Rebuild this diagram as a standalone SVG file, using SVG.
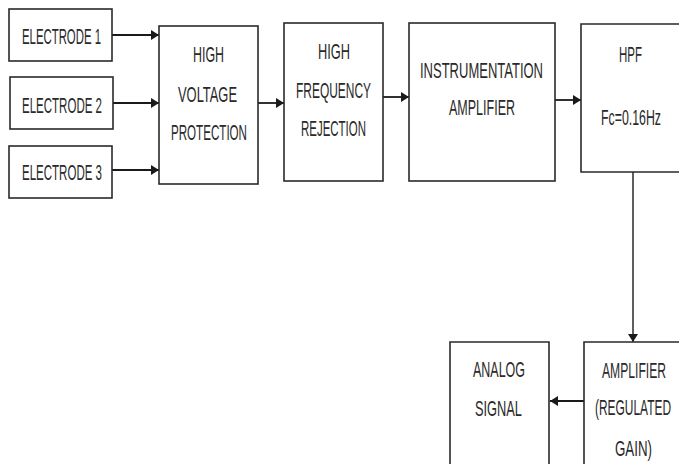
<svg xmlns="http://www.w3.org/2000/svg" width="679" height="464" viewBox="0 0 679 464">
<style>
.box{fill:#fff;stroke:#2a2a2a;stroke-width:1.6}
.t{font-family:"Liberation Sans",Arial,sans-serif;font-size:22.5px;fill:#2a2a2a}
.c{stroke:#1a1a1a;stroke-width:1.8;fill:none;marker-end:url(#ah)}
</style>
<defs>
<marker id="ah" markerUnits="userSpaceOnUse" markerWidth="8" markerHeight="10" refX="8" refY="5" orient="auto">
<path d="M0,0 L8,5 L0,10 z" fill="#1a1a1a"/>
</marker>
</defs>
<rect width="679" height="464" fill="#fff"/>
<g id="connectors">
<line class="c" x1="112" y1="35" x2="159" y2="35"/>
<line class="c" x1="113" y1="103" x2="159" y2="103"/>
<line class="c" x1="112" y1="170" x2="159" y2="170"/>
<line class="c" x1="258" y1="103" x2="284" y2="103"/>
<line class="c" x1="383" y1="97" x2="409" y2="97"/>
<line class="c" x1="555" y1="100" x2="581" y2="100"/>
<line class="c" style="stroke-width:1.4" x1="633" y1="163" x2="633" y2="342"/>
<line class="c" x1="584" y1="401" x2="550" y2="401"/>
</g>
<g id="electrode1">
<rect class="box" x="9" y="9" width="103" height="52"/>
<text class="t" x="22" y="44" textLength="79" lengthAdjust="spacingAndGlyphs">ELECTRODE 1</text>
</g>
<g id="electrode2">
<rect class="box" x="10" y="77" width="103" height="52"/>
<text class="t" x="22" y="113" textLength="80" lengthAdjust="spacingAndGlyphs">ELECTRODE 2</text>
</g>
<g id="electrode3">
<rect class="box" x="9" y="146" width="103" height="52"/>
<text class="t" x="22" y="180" textLength="80" lengthAdjust="spacingAndGlyphs">ELECTRODE 3</text>
</g>
<g id="hv-protection">
<rect class="box" x="159" y="26" width="99" height="158"/>
<text class="t" x="193" y="62" textLength="31" lengthAdjust="spacingAndGlyphs">HIGH</text>
<text class="t" x="178" y="102" textLength="59" lengthAdjust="spacingAndGlyphs">VOLTAGE</text>
<text class="t" x="171" y="140" textLength="76" lengthAdjust="spacingAndGlyphs">PROTECTION</text>
</g>
<g id="hf-rejection">
<rect class="box" x="284" y="23" width="99" height="158"/>
<text class="t" x="318" y="59" textLength="32" lengthAdjust="spacingAndGlyphs">HIGH</text>
<text class="t" x="296" y="98" textLength="75" lengthAdjust="spacingAndGlyphs">FREQUENCY</text>
<text class="t" x="301" y="136" textLength="65" lengthAdjust="spacingAndGlyphs">REJECTION</text>
</g>
<g id="instrumentation-amplifier">
<rect class="box" x="409" y="23" width="146" height="158"/>
<text class="t" x="420" y="78" textLength="123" lengthAdjust="spacingAndGlyphs">INSTRUMENTATION</text>
<text class="t" x="449" y="115" textLength="66" lengthAdjust="spacingAndGlyphs">AMPLIFIER</text>
</g>
<g id="hpf">
<path class="box" d="M679,24 H581 V172 H679"/>
<text class="t" x="619" y="62" textLength="23" lengthAdjust="spacingAndGlyphs">HPF</text>
<text class="t" x="601" y="125" textLength="60" lengthAdjust="spacingAndGlyphs">Fc=0.16Hz</text>
</g>
<g id="amplifier-regulated-gain">
<path class="box" d="M679,342 H584 V464"/>
<text class="t" x="602" y="378" textLength="64" lengthAdjust="spacingAndGlyphs">AMPLIFIER</text>
<text class="t" x="595" y="415" textLength="76" lengthAdjust="spacingAndGlyphs">(REGULATED</text>
<text class="t" x="615" y="456" textLength="37" lengthAdjust="spacingAndGlyphs">GAIN)</text>
</g>
<g id="analog-signal">
<path class="box" d="M450,464 V342 H549 V464"/>
<text class="t" x="473" y="377" textLength="52" lengthAdjust="spacingAndGlyphs">ANALOG</text>
<text class="t" x="475" y="416" textLength="47" lengthAdjust="spacingAndGlyphs">SIGNAL</text>
</g>
</svg>
